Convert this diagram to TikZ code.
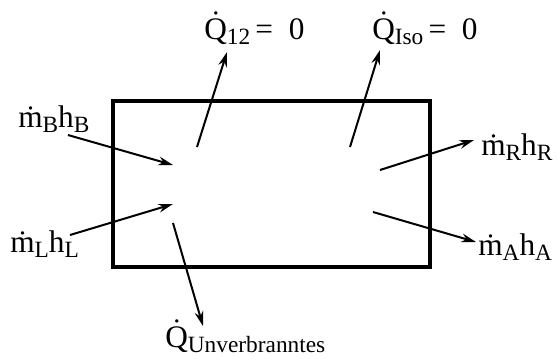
\documentclass[tikz,border=0pt]{standalone}
\usepackage{fontspec}
\setmainfont{Liberation Serif}
\usetikzlibrary{arrows.meta}
\newcommand{\lowsub}[1]{\raisebox{-0.4ex}{\fontsize{17.5}{18}\selectfont #1}}

\begin{document}
\begin{tikzpicture}[x=0.75pt, y=-0.75pt, >={Stealth[length=11pt,width=6.5pt]},
    font=\fontsize{23.5}{26}\selectfont,
    lbl/.style={anchor=base west, inner sep=0pt},
    flow/.style={line width=1.5pt, ->}]
  \useasboundingbox (0,0) rectangle (559,358);
  \draw[line width=2.6pt] (113,101) rectangle (430,267);

  % labels
  \node[lbl] (q12) at (204,39) {\.Q\lowsub{12}\,= \ 0};
  \node[lbl] (qiso) at (372,39) {\.Q\lowsub{Iso}\,= \ 0};
  \node[lbl] (mb) at (18,127) {\.m\lowsub{B}h\lowsub{B}};
  \node[lbl] (mr) at (481,155) {\.m\lowsub{R}h\lowsub{R}};
  \node[lbl] (ml) at (10,252) {\.m\lowsub{L}h\lowsub{L}};
  \node[lbl] (ma) at (478,255) {\.m\lowsub{A}h\lowsub{A}};
  \node[lbl] (qu) at (165,347) {\.Q\lowsub{Unverbranntes}};

  % arrow ends
  \coordinate (q12in) at (197,147);
  \coordinate (q12out) at (227,52);
  \coordinate (qisoin) at (350,147);
  \coordinate (qisoout) at (380,50);
  \coordinate (mrin) at (380,170);
  \coordinate (mrout) at (474,140);
  \coordinate (mbout) at (68,135);
  \coordinate (mbin) at (173,165);
  \coordinate (mlout) at (70,235);
  \coordinate (mlin) at (173,204);
  \coordinate (quin) at (173,223);
  \coordinate (quout) at (203,326);
  \coordinate (main) at (373,212);
  \coordinate (maout) at (476,242);

  \draw[flow] (q12in) -- (q12out);
  \draw[flow] (qisoin) -- (qisoout);
  \draw[flow] (mrin) -- (mrout);
  \draw[flow] (mbout) -- (mbin);
  \draw[flow] (mlout) -- (mlin);
  \draw[flow] (quin) -- (quout);
  \draw[flow] (main) -- (maout);
\end{tikzpicture}
\end{document}
